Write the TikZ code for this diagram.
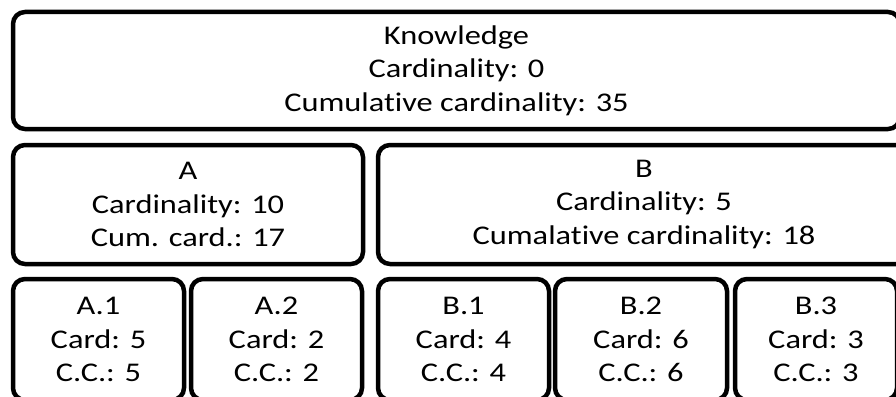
\documentclass[tikz,border=0pt]{standalone}
\usepackage{fontspec}
\setmainfont{Carlito}[FakeStretch=1.2, Ligatures=NoCommon]
\begin{document}
\begin{tikzpicture}[x=1pt,y=-1pt,
  box/.style={draw=black, line width=4.5pt, rounded corners=12pt, fill=white,
    align=center, inner sep=0pt, font=\fontsize{27}{33.5}\selectfont}]
\useasboundingbox (0,0) rectangle (896,396);
\clip (0,0) rectangle (896,396);
\fill[white] (0,0) rectangle (896,396);
\node[box, minimum width=887pt, minimum height=117pt] (K) at (456.5,70.5)
  {Knowledge\\Cardinality: 0\\Cumulative cardinality: 35};
\node[box, minimum width=350pt, minimum height=119pt] (A) at (188,204.5)
  {A\\Cardinality: 10\\Cum. card.: 17};
\node[box, minimum width=532pt, minimum height=119pt] (B) at (644,204.5)
  {B\\Cardinality: 5\\Cumalative cardinality: 18};
\node[box, minimum width=171pt, minimum height=121pt] (A1) at (98.5,339.5)
  {A.1\\Card: 5\\C.C.: 5};
\node[box, minimum width=171pt, minimum height=121pt] (A2) at (276.5,339.5)
  {A.2\\Card: 2\\C.C.: 2};
\node[box, minimum width=171pt, minimum height=121pt] (B1) at (463.5,339.5)
  {B.1\\Card: 4\\C.C.: 4};
\node[box, minimum width=172pt, minimum height=121pt] (B2) at (641,339.5)
  {B.2\\Card: 6\\C.C.: 6};
\node[box, minimum width=162pt, minimum height=121pt] (B3) at (816,339.5)
  {B.3\\Card: 3\\C.C.: 3};
\end{tikzpicture}
\end{document}
